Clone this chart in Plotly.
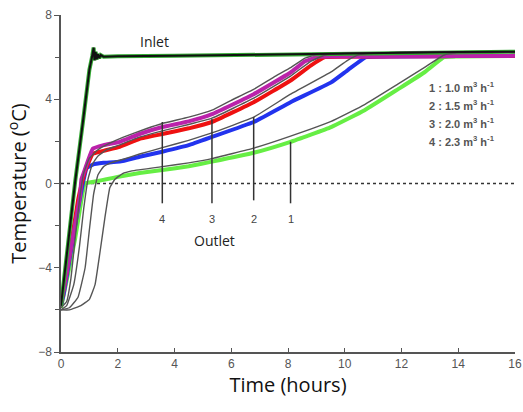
import plotly.graph_objects as go

# ---------------- data ----------------
inlet_t = [0, 0.1, 0.3, 0.5, 0.77, 1.0, 1.1, 1.15, 1.18, 1.22, 1.26, 1.3, 1.35, 1.4, 1.5, 2, 4, 6, 8, 10, 12, 14, 16]
inlet_T = [-5.8, -4.6, -2.1, 0.1, 2.9, 5.4, 6.05, 6.45, 5.85, 6.25, 5.9, 6.15, 5.95, 6.1, 6.02, 6.04, 6.06, 6.1, 6.14, 6.18, 6.21, 6.24, 6.26]

mag_t = [0, 0.1, 0.32, 0.67, 0.72, 0.8, 1.12, 1.5, 2.07, 2.77, 3.57, 4.5, 5.32, 6.79, 8.09, 8.6, 9.07, 10, 12, 14, 16]
mag_T = [-5.6, -5.0, -3.3, -0.6, 0.2, 0.5, 1.65, 1.82, 1.98, 2.35, 2.68, 2.95, 3.29, 4.24, 5.27, 5.8, 6.02, 6.03, 6.04, 6.05, 6.06]

red_t = [0, 0.1, 0.3, 0.6, 0.75, 0.85, 1.12, 1.5, 2.07, 2.77, 3.57, 4.5, 5.32, 6.79, 8.09, 8.8, 9.3, 10, 12, 14, 16]
red_T = [-5.7, -5.0, -3.4, -0.8, 0.1, 0.6, 1.41, 1.55, 1.74, 2.12, 2.35, 2.62, 2.92, 3.86, 4.89, 5.6, 6.0, 6.02, 6.04, 6.05, 6.06]

blue_t = [0, 0.1, 0.3, 0.6, 0.77, 0.9, 1.12, 1.5, 2.07, 2.77, 3.57, 4.5, 5.32, 6.79, 8.09, 9.52, 10.12, 10.75, 12, 14, 16]
blue_T = [-5.8, -5.2, -3.6, -1.2, 0.0, 0.72, 0.9, 0.98, 1.04, 1.27, 1.51, 1.82, 2.21, 2.92, 3.86, 4.8, 5.4, 6.0, 6.03, 6.05, 6.06]

green_t = [0, 0.2, 0.5, 0.84, 1.0, 1.3, 1.6, 2.07, 2.77, 3.57, 4.5, 5.32, 6.79, 8.09, 9.52, 10.7, 11.87, 12.8, 13.5, 14, 16]
green_T = [-5.9, -4.6, -2.6, 0.0, 0.05, 0.12, 0.2, 0.33, 0.5, 0.64, 0.82, 1.04, 1.46, 1.98, 2.68, 3.48, 4.47, 5.27, 6.0, 6.03, 6.06]

gray4_t = [0, 0.2, 0.35, 0.5, 0.65, 0.8, 1.0, 1.3, 1.7, 2.2, 3.0, 3.57, 4.5, 5.32, 6.0, 6.79, 7.5, 8.09, 8.6, 9.0, 10, 12, 14, 16]
gray4_T = [-5.9, -5.6, -4.5, -2.6, -0.8, 0.5, 1.2, 1.6, 1.9, 2.2, 2.6, 2.85, 3.15, 3.48, 3.95, 4.47, 5.05, 5.5, 5.95, 6.12, 6.18, 6.22, 6.24, 6.26]

gray3_t = [0, 0.2, 0.45, 0.65, 0.8, 0.95, 1.1, 1.3, 1.6, 2.0, 2.77, 3.57, 4.5, 5.32, 6.79, 8.09, 8.8, 9.3, 10, 12, 14, 16]
gray3_T = [-6.0, -5.8, -4.8, -3.0, -1.2, 0.2, 0.9, 1.3, 1.6, 1.8, 2.2, 2.5, 2.8, 3.1, 4.05, 5.1, 5.8, 6.1, 6.18, 6.22, 6.24, 6.26]

gray2_t = [0, 0.3, 0.6, 0.85, 1.0, 1.15, 1.3, 1.5, 1.8, 2.2, 2.77, 3.57, 4.5, 5.32, 6.79, 8.09, 9.52, 10.1, 10.5, 11, 12, 14, 16]
gray2_T = [-6.0, -5.9, -5.4, -4.0, -2.2, -0.5, 0.4, 0.8, 1.0, 1.15, 1.4, 1.7, 2.05, 2.4, 3.15, 4.24, 5.3, 5.85, 6.12, 6.18, 6.22, 6.24, 6.26]

gray1_t = [0, 0.3, 0.7, 1.0, 1.2, 1.37, 1.55, 1.72, 1.9, 2.17, 2.5, 3.57, 4.5, 5.32, 6.79, 8.09, 9.52, 10.7, 11.87, 12.8, 13.5, 14, 16]
gray1_T = [-6.0, -6.0, -5.8, -5.5, -4.8, -3.3, -1.6, -0.2, 0.2, 0.47, 0.6, 0.8, 0.98, 1.18, 1.68, 2.25, 2.95, 3.75, 4.72, 5.5, 6.1, 6.2, 6.26]

marker_labels = ["4", "3", "2", "1"]
marker_t = [3.57, 5.32, 6.79, 8.09]
marker_top = [2.92, 3.06, 3.15, 1.98]
marker_bottom = [-0.94, -0.94, -0.8, -0.94]
marker_label_T = -1.7

flow_labels = ["1 : 1.0 m<sup>3</sup> h<sup>-1</sup>", "2 : 1.5 m<sup>3</sup> h<sup>-1</sup>",
               "3 : 2.0 m<sup>3</sup> h<sup>-1</sup>", "4 : 2.3 m<sup>3</sup> h<sup>-1</sup>"]

x_ticks = [0, 2, 4, 6, 8, 10, 12, 14, 16]
y_ticks = [-8, -4, 0, 4, 8]

# ---------------- figure ----------------
fig = go.Figure()

# zero reference line
fig.add_trace(go.Scatter(x=[0, 16], y=[0, 0], mode="lines",
                         line=dict(color="#333333", width=1.3, dash="dot"), hoverinfo="skip"))

# measured outlet curves (thick, coloured)
for t, T, c in [(green_t, green_T, "#66ee44"), (blue_t, blue_T, "#2233ee"),
                (red_t, red_T, "#ee1111"), (mag_t, mag_T, "#bb22aa")]:
    fig.add_trace(go.Scatter(x=t, y=T, mode="lines", line=dict(color=c, width=4, shape="spline", smoothing=0.3),
                             hoverinfo="skip"))

# inlet green underlay
fig.add_trace(go.Scatter(x=inlet_t, y=inlet_T, mode="lines",
                         line=dict(color="#33aa33", width=4), hoverinfo="skip"))

# modelled curves (thin gray)
for t, T in [(gray1_t, gray1_T), (gray2_t, gray2_T), (gray3_t, gray3_T), (gray4_t, gray4_T)]:
    fig.add_trace(go.Scatter(x=t, y=T, mode="lines",
                             line=dict(color="#555555", width=1.4, shape="spline", smoothing=0.3),
                             hoverinfo="skip"))

# inlet black
fig.add_trace(go.Scatter(x=inlet_t, y=inlet_T, mode="lines",
                         line=dict(color="#111111", width=2), hoverinfo="skip"))

# vertical markers
for t, top, bot, lab in zip(marker_t, marker_top, marker_bottom, marker_labels):
    fig.add_trace(go.Scatter(x=[t, t], y=[bot, top], mode="lines",
                             line=dict(color="#333333", width=1.5), hoverinfo="skip"))
    fig.add_annotation(x=t, y=marker_label_T, text=lab, showarrow=False,
                       font=dict(family="Liberation Sans", size=11, color="#444444"))

fig.add_annotation(x=5.4, y=-2.7, text="Outlet", showarrow=False,
                   font=dict(family="Open Sans", size=14, color="#222222"))
fig.add_annotation(x=3.3, y=6.75, text="Inlet", showarrow=False,
                   font=dict(family="Open Sans", size=14, color="#222222"))

for i, lab in enumerate(flow_labels):
    fig.add_annotation(x=12.9, y=4.6 - i * 0.86, text="<b>" + lab + "</b>", showarrow=False,
                       xanchor="left", font=dict(family="Liberation Sans", size=11, color="#555555"))

fig.update_layout(
    width=523, height=412,
    margin=dict(l=61, r=8, t=12, b=60),
    paper_bgcolor="white", plot_bgcolor="white",
    showlegend=False,
    xaxis=dict(range=[0, 16], tickvals=x_ticks, showgrid=False, zeroline=False,
               showline=True, linecolor="#555555", linewidth=1.5,
               ticks="inside", ticklen=4, tickcolor="#555555",
               ticklabeloverflow="allow", automargin=False,
               tickfont=dict(family="Liberation Sans", size=12, color="#555555"),
               title=dict(text="Time (hours)", font=dict(family="Open Sans", size=20, color="#111111"), standoff=4)),
    yaxis=dict(range=[-8, 8], tickvals=y_ticks, showgrid=False, zeroline=False,
               showline=True, linecolor="#555555", linewidth=1.5,
               ticks="outside", ticklen=5, tickcolor="#555555",
               minor=dict(tickvals=[-6, -2, 2, 6], ticks="outside", ticklen=4, tickcolor="#555555"),
               tickfont=dict(family="Liberation Sans", size=12, color="#555555"),
               title=dict(text="Temperature (<sup>o</sup>C)", font=dict(family="Open Sans", size=20, color="#111111"), standoff=6)),
)

fig.write_html("out.html")
